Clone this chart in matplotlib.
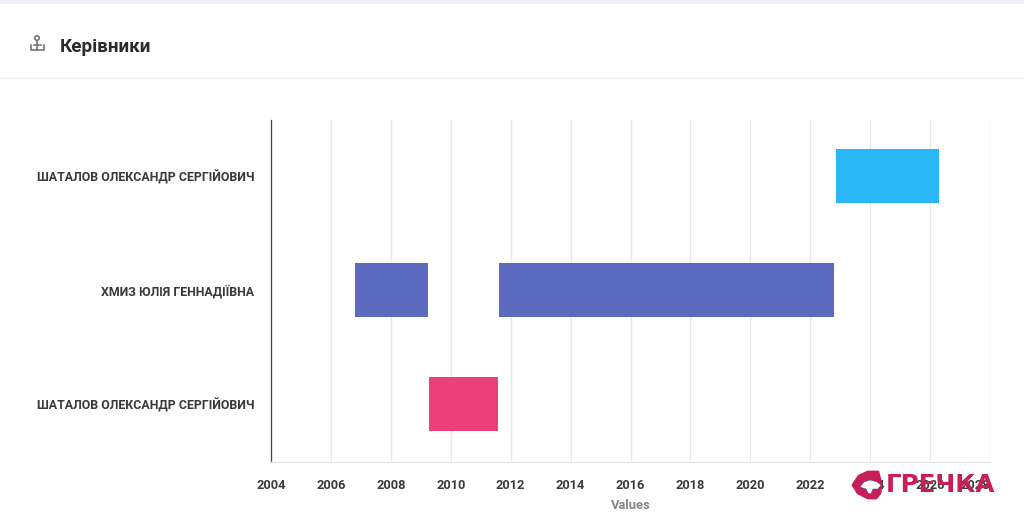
import matplotlib
matplotlib.use('Agg')
import matplotlib.pyplot as plt
from matplotlib.patches import Rectangle, Circle, Polygon

plt.rcParams['font.family'] = ['Roboto', 'DejaVu Sans']

W = 1024
H = 530

names = ['ШАТАЛОВ ОЛЕКСАНДР СЕРГІЙОВИЧ', 'ХМИЗ ЮЛІЯ ГЕННАДІЇВНА', 'ШАТАЛОВ ОЛЕКСАНДР СЕРГІЙОВИЧ']
row_pos = [0, 1, 2]
bar_start = [2022.85, 2006.8, 2011.6, 2009.28]
bar_end = [2026.3, 2009.25, 2022.8, 2011.58]
bar_row = [0, 1, 1, 2]
bar_color = ['#29b6f6', '#5c6bc0', '#5c6bc0', '#ec407a']
years = list(range(2004, 2029, 2))

fig = plt.figure(figsize=(W / 100, H / 100), dpi=100)
bg = fig.add_axes([0, 0, 1, 1])
bg.set_xlim(0, W)
bg.set_ylim(H, 0)
bg.axis('off')

# page strip on top and header divider
bg.add_patch(Rectangle((0, 0), W, 3.5, color='#eef0f7', lw=0))
bg.plot([0, W], [77.5, 77.5], color='#ececec', lw=1)

# anchor icon
bg.add_patch(Circle((37, 38), 2.2, fill=False, ec='#6a6a6a', lw=1.1))
bg.plot([37, 37], [40.5, 50], color='#6a6a6a', lw=1.1)
bg.plot([30.5, 30.5, 43.5, 43.5], [45, 50, 50, 45], color='#6a6a6a', lw=1.1)
bg.plot([33.5, 40.5], [45, 45], color='#6a6a6a', lw=1.1)
bg.text(59.5, 46.5, 'Керівники', fontsize=13.6, fontweight='bold', color='#2b2b2b', va='center', ha='left')

ax = fig.add_axes([271 / W, 1 - 462 / H, (990 - 271) / W, (462 - 120) / H])
ax.set_xlim(2004, 2028)
ax.set_ylim(2.509, -0.491)
ax.set_zorder(1)
ax.patch.set_alpha(0)

ax.grid(axis='x', color='#e9e9e9', lw=1)
ax.set_axisbelow(True)
ax.barh(bar_row, [e - s for s, e in zip(bar_start, bar_end)], left=bar_start,
        height=0.478, color=bar_color, zorder=3)

for side in ['top', 'right']:
    ax.spines[side].set_visible(False)
ax.spines['left'].set_color('#444444')
ax.spines['left'].set_linewidth(0.9)
ax.spines['bottom'].set_color('#e6e6e6')
ax.spines['bottom'].set_linewidth(1)

ax.set_xticks(years)
ax.set_xticklabels([str(y) for y in years], fontsize=9.2, fontweight='bold', color='#3a3a3a')
# last year label stays inside the axis end
ax.get_xticklabels()[-1].set_ha('right')
ax.set_yticks(row_pos)
ax.set_yticklabels(names, fontsize=8.9, fontweight='bold', color='#3a3a3a')
ax.tick_params(axis='both', length=0)
ax.tick_params(axis='x', pad=12.3)
ax.tick_params(axis='y', pad=12)
ax.set_xlabel('Values', fontsize=9.4, fontweight='bold', color='#858585', labelpad=5)

# watermark logo above the axis labels
top = fig.add_axes([0, 0, 1, 1])
top.set_xlim(0, W)
top.set_ylim(H, 0)
top.axis('off')
top.set_zorder(2)
logo = '#c81e5a'
top.add_patch(Polygon([(853, 485), (859, 476), (868, 472), (878, 472), (881, 484),
                       (880, 493), (876, 498), (868, 498), (858, 493)], closed=True,
                      fc=logo, ec=logo, lw=2, joinstyle='round'))
top.add_patch(Polygon([(860, 487), (864, 482), (870, 480), (877, 482), (881, 485), (878, 489),
                       (873, 489), (871, 494), (868, 493), (866, 489)], closed=True, fc='white',
                      ec='#3040a0', lw=0.3))
top.text(886, 485.5, 'ГРЕЧКА', fontsize=17.7, fontweight='bold', family='DejaVu Sans',
         color=logo, va='center', ha='left')

fig.savefig('out.png', dpi=100)
